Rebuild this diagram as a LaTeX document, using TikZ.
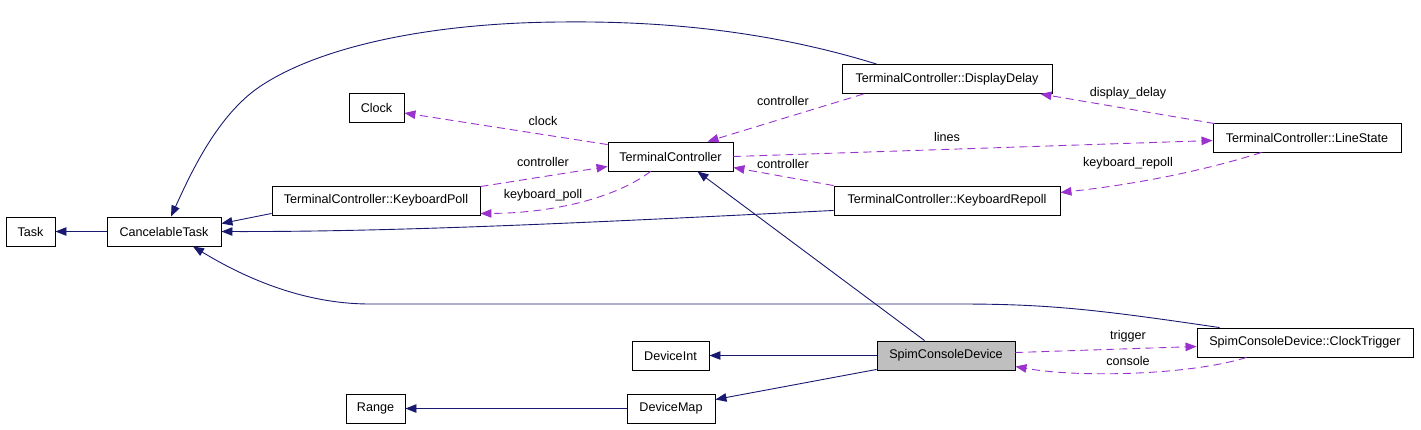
\documentclass[tikz,border=0pt]{standalone}
\usepackage{fontspec}
\setmainfont{Liberation Sans}
\usetikzlibrary{arrows.meta,calc}
\definecolor{navy}{HTML}{191970}
\definecolor{orchid}{HTML}{9A32CD}
\definecolor{fillgray}{HTML}{BFBFBF}
\tikzset{
 cls/.style={draw=black, fill=white, line width=0.9pt, inner sep=0pt, minimum height=29pt, font=\fontsize{12.6}{14}\selectfont},
 inh/.style={draw=navy, line width=0.9pt, -{Triangle[length=11pt,width=8.5pt]}},
 use/.style={draw=orchid, line width=0.9pt, dash pattern=on 8pt off 5pt, -{Triangle[length=11pt,width=8.5pt]}},
 lbl/.style={font=\fontsize{12.6}{14}\selectfont, inner sep=0pt, text=black}
}
\begin{document}
\begin{tikzpicture}[x=1pt,y=-1pt]
\useasboundingbox (0,0) rectangle (1421,429);
% nodes
\node[cls, minimum width=49pt]  (task)   at (30.5,231.5) {Task};
\node[cls, minimum width=114pt] (cancel) at (164,231.5) {CancelableTask};
\node[cls, minimum width=55pt]  (clock)  at (376.5,108) {Clock};
\node[cls, minimum width=208pt] (kpoll)  at (376,200.5) {TerminalController::KeyboardPoll};
\node[cls, minimum width=125pt] (tc)     at (670.5,156.5) {TerminalController};
\node[cls, minimum width=210pt] (dd)     at (947,79) {TerminalController::DisplayDelay};
\node[cls, minimum width=188pt] (ls)     at (1307,137.5) {TerminalController::LineState};
\node[cls, minimum width=226pt] (krp)    at (947,200.5) {TerminalController::KeyboardRepoll};
\node[cls, minimum width=216pt] (sct)    at (1305,342.5) {SpimConsoleDevice::ClockTrigger};
\node[cls, minimum width=138pt, fill=fillgray] (scd) at (946,355.5) {SpimConsoleDevice};
\node[cls, minimum width=77pt]  (dint)   at (670.5,355.5) {DeviceInt};
\node[cls, minimum width=88pt]  (dmap)   at (671,408.5) {DeviceMap};
\node[cls, minimum width=59pt]  (range)  at (375.5,408.5) {Range};
% inheritance / solid edges
\draw[inh] (cancel.west) -- (task.east);
\draw[inh] ($(kpoll.south west)+(0,-2)$) -- ($(cancel.east)+(0,-8)$);
\draw[inh] ($(krp.south west)+(0,-5)$) .. controls (600,222) and (400,232) .. (cancel.east);
\draw[inh] ($(dd.north west)+(35,0)$) .. controls (760,28) and (650,21) .. (560,22)
  .. controls (420,23) and (310,50) .. (255,90)
  .. controls (215,120) and (190,175) .. ($(cancel.north)+(7,0)$);
\draw[inh] ($(sct.north west)+(23,0)$) .. controls (1100,310) and (1050,304) .. (960,304)
  -- (370,304) .. controls (300,304) and (240,275) .. ($(cancel.south)+(29,0)$);
\draw[inh] ($(scd.north west)+(48,0)$) -- ($(tc.south)+(27,0)$);
\draw[inh] (scd.west) -- (dint.east);
\draw[inh] ($(scd.south west)+(0,-1)$) -- ($(dmap.east)+(0,-9)$);
\draw[inh] (dmap.west) -- (range.east);
% usage / dashed edges
\draw[use] ($(tc.north west)+(0,3)$) -- ($(clock.east)+(0,5)$) node[lbl] at (543,121) {clock};
\draw[use] ($(kpoll.north east)+(0,1)$) -- ($(tc.west)+(0,10)$) node[lbl] at (543,162) {controller};
\draw[use] ($(tc.south)+(-20,0)$) .. controls (620,195) and (560,213) .. ($(kpoll.east)+(0,13)$) node[lbl] at (543,195) {keyboard\_poll};
\draw[use] ($(dd.south west)+(22,0)$) -- ($(tc.north)+(37,0)$) node[lbl] at (783,101) {controller};
\draw[use] ($(ls.north west)+(2,1)$) -- ($(dd.south east)+(-12,0)$) node[lbl] at (1128,93) {display\_delay};
\draw[use] (tc.east) -- ($(ls.west)+(0,3)$) node[lbl] at (947,137) {lines};
\draw[use] (krp.north west) -- ($(tc.east)+(0,11)$) node[lbl] at (783,164) {controller};
\draw[use] ($(ls.south west)+(49,0)$) .. controls (1200,172) and (1130,185) .. ($(krp.east)+(0,-8)$) node[lbl] at (1128,163) {keyboard\_repoll};
\draw[use] ($(scd.east)+(0,-3)$) -- ($(sct.west)+(0,4)$) node[lbl] at (1128,336) {trigger};
\draw[use] ($(sct.south west)+(50,0)$) .. controls (1190,375) and (1080,378) .. ($(scd.east)+(0,11)$) node[lbl] at (1128,361) {console};
\end{tikzpicture}
\end{document}
